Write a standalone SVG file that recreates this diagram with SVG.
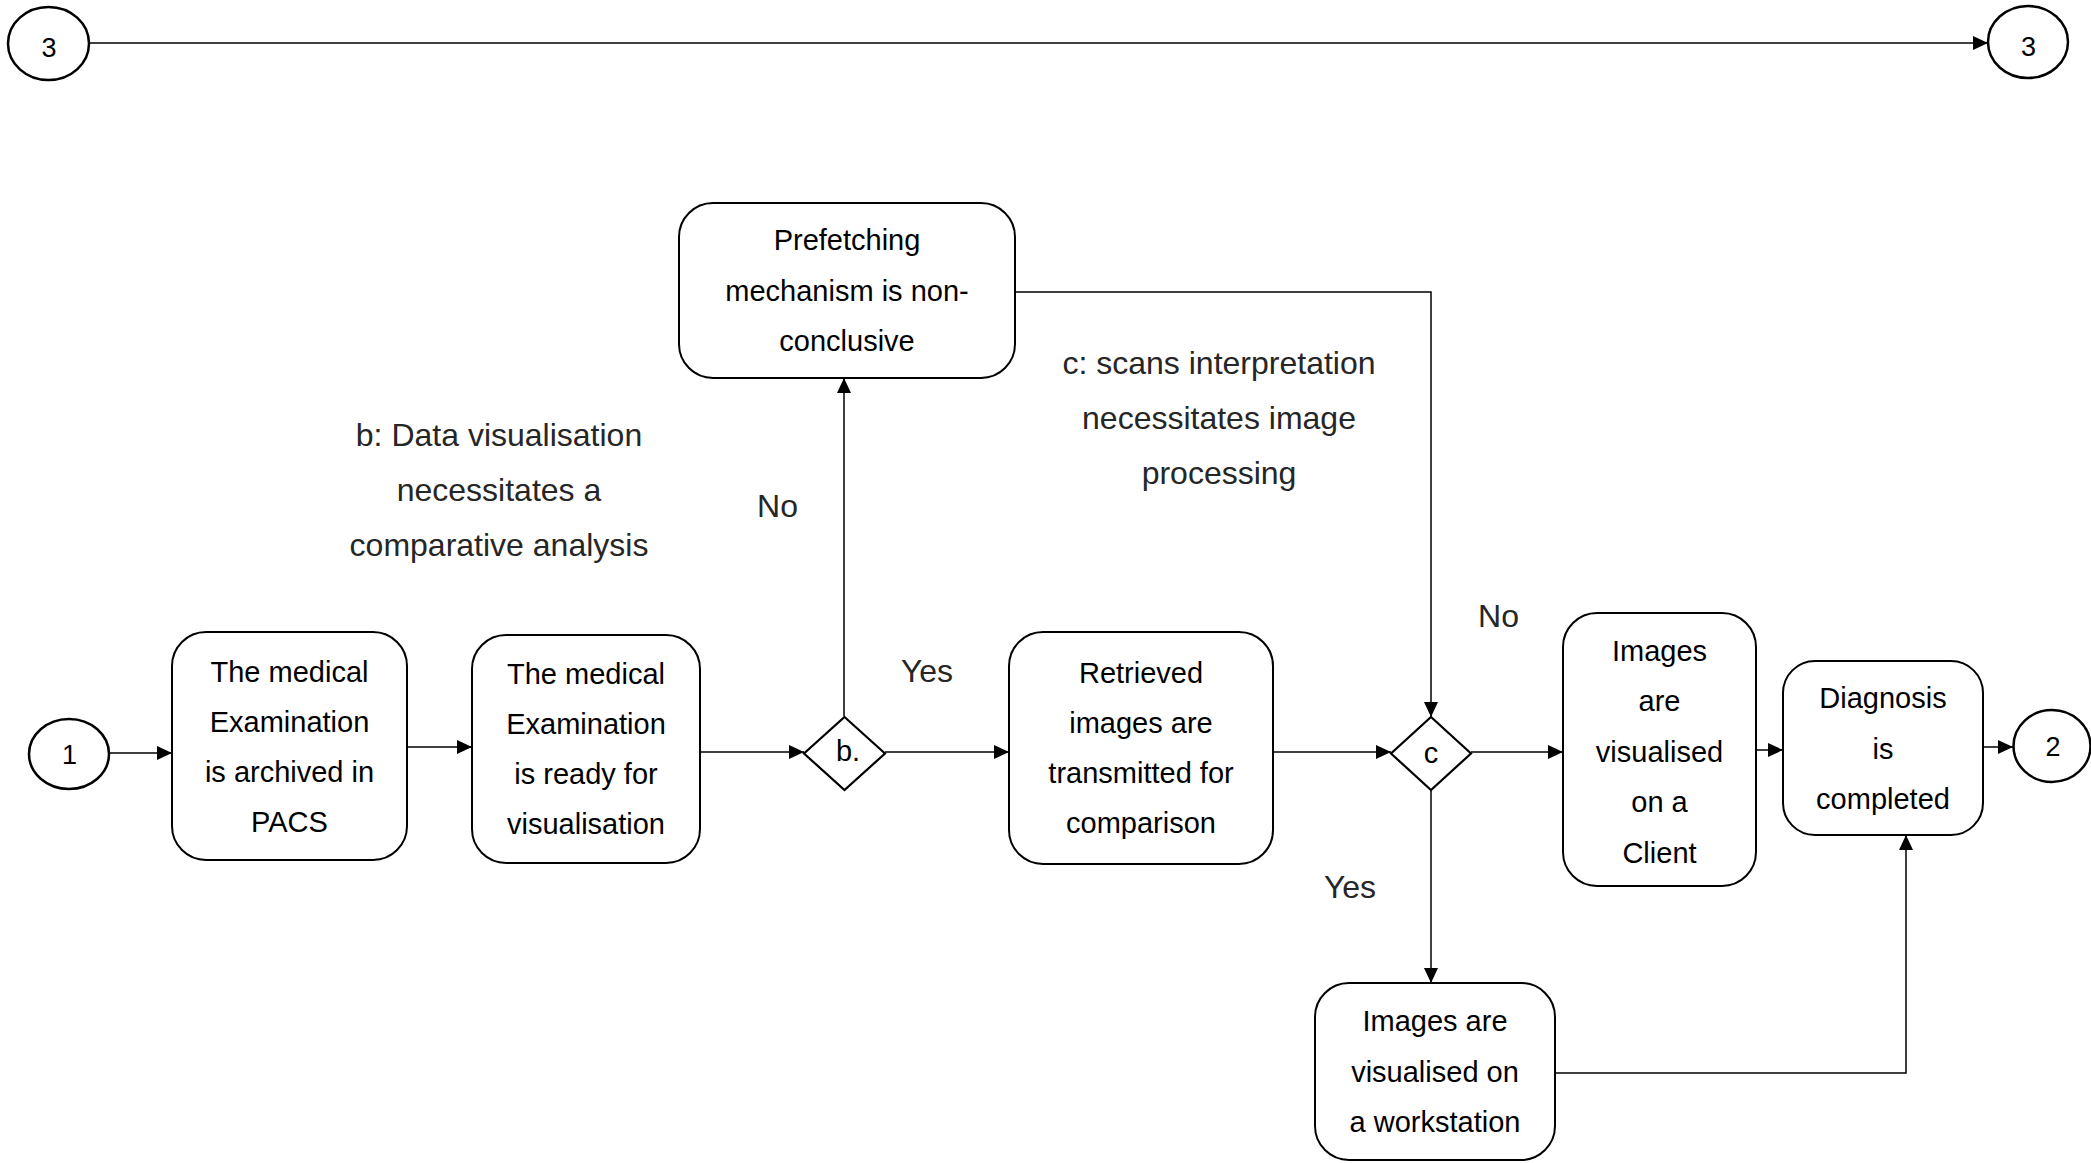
<svg xmlns="http://www.w3.org/2000/svg" width="2091" height="1163" viewBox="0 0 2091 1163">
<defs>
<marker id="arr" markerUnits="userSpaceOnUse" markerWidth="16" markerHeight="16" viewBox="0 0 16 16" refX="15" refY="8" orient="auto">
<path d="M0,1 L15,8 L0,15 Z" fill="#000"/>
</marker>
</defs>
<style>
.box{fill:#fff;stroke:#000;stroke-width:2}
.circ{fill:#fff;stroke:#000;stroke-width:2.5}
.dia{fill:#fff;stroke:#000;stroke-width:2.2}
.con{fill:none;stroke:#000;stroke-width:1.5}
.t{font-family:"Liberation Sans",Arial,sans-serif;font-size:29px;fill:#000;text-anchor:middle}
.lbl{font-family:"Liberation Sans",Arial,sans-serif;font-size:32px;fill:#262626;text-anchor:middle}
.num{font-family:"Liberation Sans",Arial,sans-serif;font-size:27px;fill:#000;text-anchor:middle}
.dl{font-family:"Liberation Sans",Arial,sans-serif;font-size:29px;fill:#000;text-anchor:middle}
</style>
<rect width="2091" height="1163" fill="#fff"/>
<g id="connectors">
<path class="con" d="M89,43 H1988" marker-end="url(#arr)"/>
<path class="con" d="M109,753 H172" marker-end="url(#arr)"/>
<path class="con" d="M407,747 H472" marker-end="url(#arr)"/>
<path class="con" d="M700,752 H804" marker-end="url(#arr)"/>
<path class="con" d="M885,752 H1009" marker-end="url(#arr)"/>
<path class="con" d="M844,716 V378" marker-end="url(#arr)"/>
<path class="con" d="M1015,292 H1431 V717" marker-end="url(#arr)"/>
<path class="con" d="M1273,752 H1391" marker-end="url(#arr)"/>
<path class="con" d="M1471,752 H1563" marker-end="url(#arr)"/>
<path class="con" d="M1756,750 H1783" marker-end="url(#arr)"/>
<path class="con" d="M1983,747 H2013" marker-end="url(#arr)"/>
<path class="con" d="M1431,790 V983" marker-end="url(#arr)"/>
<path class="con" d="M1555,1073 H1906 V835" marker-end="url(#arr)"/>
</g>
<g id="start3">
<ellipse class="circ" cx="48.5" cy="43.5" rx="40.5" ry="36.5"/>
<text class="num" x="49" y="57">3</text>
</g>
<g id="end3">
<ellipse class="circ" cx="2028" cy="42" rx="40" ry="36"/>
<text class="num" x="2028.5" y="56">3</text>
</g>
<g id="start1">
<ellipse class="circ" cx="69" cy="754" rx="40" ry="35"/>
<text class="num" x="69.5" y="764">1</text>
</g>
<g id="end2">
<ellipse class="circ" cx="2052" cy="746" rx="38.5" ry="36"/>
<text class="num" x="2053" y="756">2</text>
</g>
<g id="archived">
<rect class="box" x="172" y="632" width="235" height="228" rx="34"/>
<text class="t" x="289.5" y="682">The medical</text>
<text class="t" x="289.5" y="732">Examination</text>
<text class="t" x="289.5" y="782">is archived in</text>
<text class="t" x="289.5" y="832">PACS</text>
</g>
<g id="ready">
<rect class="box" x="472" y="635" width="228" height="228" rx="34"/>
<text class="t" x="586" y="684">The medical</text>
<text class="t" x="586" y="734">Examination</text>
<text class="t" x="586" y="784">is ready for</text>
<text class="t" x="586" y="834">visualisation</text>
</g>
<g id="decisionB">
<path class="dia" d="M844.5,717 L885,753.5 L844.5,790 L804,753.5 Z"/>
<text class="dl" x="848" y="761">b.</text>
</g>
<g id="prefetch">
<rect class="box" x="679" y="203" width="336" height="175" rx="34"/>
<text class="t" x="847" y="250">Prefetching</text>
<text class="t" x="847" y="300.5">mechanism is non-</text>
<text class="t" x="847" y="351">conclusive</text>
</g>
<g id="retrieved">
<rect class="box" x="1009" y="632" width="264" height="232" rx="34"/>
<text class="t" x="1141" y="683">Retrieved</text>
<text class="t" x="1141" y="733">images are</text>
<text class="t" x="1141" y="783">transmitted for</text>
<text class="t" x="1141" y="833">comparison</text>
</g>
<g id="decisionC">
<path class="dia" d="M1431,717 L1471,753.5 L1431,790 L1391,753.5 Z"/>
<text class="dl" x="1431" y="763">c</text>
</g>
<g id="client">
<rect class="box" x="1563" y="613" width="193" height="273" rx="34"/>
<text class="t" x="1659.5" y="660.5">Images</text>
<text class="t" x="1659.5" y="711">are</text>
<text class="t" x="1659.5" y="761.5">visualised</text>
<text class="t" x="1659.5" y="812">on a</text>
<text class="t" x="1659.5" y="862.5">Client</text>
</g>
<g id="diagnosis">
<rect class="box" x="1783" y="661" width="200" height="174" rx="32"/>
<text class="t" x="1883" y="708">Diagnosis</text>
<text class="t" x="1883" y="759">is</text>
<text class="t" x="1883" y="809">completed</text>
</g>
<g id="workstation">
<rect class="box" x="1315" y="983" width="240" height="177" rx="34"/>
<text class="t" x="1435" y="1031">Images are</text>
<text class="t" x="1435" y="1082">visualised on</text>
<text class="t" x="1435" y="1132">a workstation</text>
</g>
<g id="labels">
<text class="lbl" x="499" y="446">b: Data visualisation</text>
<text class="lbl" x="499" y="501">necessitates a</text>
<text class="lbl" x="499" y="556">comparative analysis</text>
<text class="lbl" x="1219" y="374">c: scans interpretation</text>
<text class="lbl" x="1219" y="429">necessitates image</text>
<text class="lbl" x="1219" y="484">processing</text>
<text class="lbl" x="777.5" y="517">No</text>
<text class="lbl" x="927" y="682">Yes</text>
<text class="lbl" x="1498.5" y="627">No</text>
<text class="lbl" x="1350" y="898">Yes</text>
</g>
</svg>
